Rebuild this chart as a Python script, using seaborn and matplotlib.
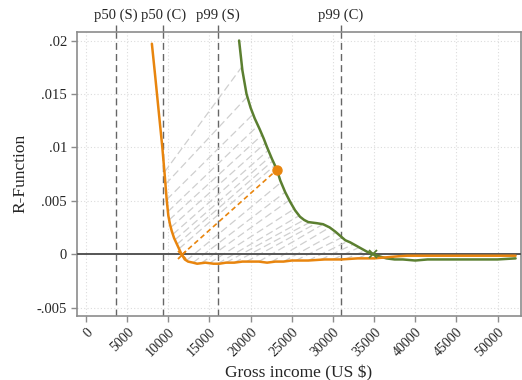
import numpy as np
import pandas as pd
import matplotlib
matplotlib.use("Agg")
import matplotlib.pyplot as plt
import seaborn as sns

# ---- data ----
orange_x = [8000, 8400, 8800, 9270, 9550, 9800, 10000, 10200, 10400, 10700, 11000, 11300, 11600,
            12000, 12400, 13000, 13500, 14500, 15500, 16200, 17000, 18000, 19000, 20000, 21000,
            22000, 23000, 24000, 25000, 27000, 29000, 31000, 33000, 35000, 36500, 38000, 39000,
            40000, 42000, 45000, 48000, 52200]
orange_y = [0.0197, 0.0167, 0.0136, 0.0100, 0.0075, 0.0051, 0.0036, 0.0028, 0.0022, 0.0015, 0.0010,
            0.0005, 0.0000, -0.0005, -0.0007, -0.0008, -0.0009, -0.0008, -0.0009, -0.0009, -0.0008,
            -0.0008, -0.0007, -0.0007, -0.0007, -0.0008, -0.0007, -0.0007, -0.0006, -0.0006,
            -0.0005, -0.0005, -0.0004, -0.0004, -0.0003, -0.0002, -0.00015, -0.00015, -0.00015,
            -0.00015, -0.00015, -0.00015]

green_x = [18600, 19000, 19500, 20000, 20500, 21100, 21600, 22000, 22600, 23200, 23600, 24200,
           24800, 25400, 26000, 26500, 27000, 28000, 28800, 29600, 30300, 30900, 31500, 32100,
           32800, 33500, 34200, 34900, 35600, 36500, 37500, 38500, 40000, 41500, 43000, 45000,
           47000, 50000, 52200]
green_y = [0.0200, 0.0172, 0.0150, 0.0137, 0.0127, 0.0117, 0.0108, 0.0100, 0.0089, 0.0079, 0.0069,
           0.0058, 0.0049, 0.0041, 0.0035, 0.0032, 0.0030, 0.0029, 0.0028, 0.0025, 0.0021, 0.0017,
           0.0013, 0.0011, 0.0008, 0.0005, 0.0002, 0.0000, -0.0002, -0.0004, -0.0005, -0.0005,
           -0.0006, -0.0005, -0.0005, -0.0005, -0.0005, -0.0005, -0.0004]

# links between matching points (orange income -> green income)
link_orange_x = [9530, 9650, 9800, 9950, 10100, 10300, 10550, 10800, 11050, 11300,
                 12200, 13000, 14000, 15000, 16000, 17000, 18000, 19500, 21000, 22500,
                 24000, 25500, 27000, 28500, 30000, 31500, 33000]
link_green_x = [18950, 19600, 20300, 20900, 21400, 21800, 22150, 22450, 22700, 22950,
                23700, 24200, 24700, 25300, 25900, 26500, 27200, 28000, 28800, 29600,
                30400, 31100, 31800, 32500, 33200, 33900, 34500]

highlight_from_x = 11650
highlight_to_x = 23200
cross_orange_x = 11650
cross_green_x = 34900

pct_labels = ["p50 (S)", "p50 (C)", "p99 (S)", "p99 (C)"]
pct_values = [3610, 9400, 16000, 30950]

xticks = list(range(0, 50001, 5000))
yticks = [-0.005, 0, 0.005, 0.01, 0.015, 0.02]
ytick_labels = ["-.005", "0", ".005", ".01", ".015", ".02"]

ORANGE = "#e8850e"
GREEN = "#5b7f30"

sns.set_theme(style="white")
plt.rcParams["font.family"] = ["Liberation Serif", "DejaVu Serif"]

fig = plt.figure(figsize=(5.22, 3.80), dpi=100)
ax = fig.add_axes([0.147, 0.168, 0.851, 0.749])

ax.set_xlim(-1130, 52850)
ax.set_ylim(-0.00581, 0.02084)

# grid
for xt in xticks:
    ax.axvline(xt, color="#dcdcdc", lw=0.8, ls=(0, (1, 2)), zorder=0)
for yt in yticks:
    ax.axhline(yt, color="#dcdcdc", lw=0.8, ls=(0, (1, 2)), zorder=0)

# percentile lines
for v in pct_values:
    ax.axvline(v, color="#666666", lw=1.0, ls=(0, (5, 3)), zorder=1)

ox = np.array(orange_x); oy = np.array(orange_y)
gx = np.array(green_x); gy = np.array(green_y)
for a, b in zip(link_orange_x, link_green_x):
    ya = np.interp(a, ox, oy)
    yb = np.interp(b, gx, gy)
    ax.plot([a, b], [ya, yb], color="#cfcfcf", lw=0.9, ls=(0, (6, 3)), zorder=2)

# highlighted link
hy0 = np.interp(highlight_from_x, ox, oy)
hy1 = np.interp(highlight_to_x, gx, gy)
ax.plot([highlight_from_x, highlight_to_x], [hy0, hy1], color=ORANGE, lw=1.2,
        ls=(0, (3, 2)), zorder=3)

ax.axhline(0, color="#555555", lw=1.4, zorder=3)

df_o = pd.DataFrame({"x": orange_x, "y": orange_y})
df_g = pd.DataFrame({"x": green_x, "y": green_y})
sns.lineplot(data=df_g, x="x", y="y", ax=ax, color=GREEN, lw=1.8, sort=False,
             estimator=None, zorder=4)
sns.lineplot(data=df_o, x="x", y="y", ax=ax, color=ORANGE, lw=1.8, sort=False,
             estimator=None, zorder=5)

ax.plot([highlight_to_x], [hy1], "o", color=ORANGE, ms=6.5, zorder=6)
ax.plot([cross_orange_x], [np.interp(cross_orange_x, ox, oy)], "x", color=ORANGE,
        ms=6, mew=1.3, zorder=6)
ax.plot([cross_green_x], [np.interp(cross_green_x, gx, gy)], "x", color=GREEN,
        ms=6, mew=1.3, zorder=6)

# axes styling
for s in ax.spines.values():
    s.set_color("#8c8c8c")
    s.set_linewidth(1.2)
ax.set_xticks(xticks)
ax.set_xticklabels([str(t) for t in xticks], rotation=45, ha="right",
                   rotation_mode="anchor", fontsize=10)
ax.set_yticks(yticks)
ax.set_yticklabels(ytick_labels, fontsize=10.5)
ax.tick_params(axis="both", direction="out", length=4, width=1, color="#8c8c8c",
               bottom=True, left=True, pad=3)
ax.set_xlabel("Gross income (US $)", fontsize=12.5, labelpad=4)
ax.set_ylabel("R-Function", fontsize=12.5, labelpad=6)

top = ax.secondary_xaxis("top")
top.set_xticks(pct_values)
top.set_xticklabels(pct_labels, fontsize=10.5)
top.tick_params(length=5, width=1, color="#666666", pad=2)
top.spines["top"].set_visible(False)

fig.savefig("out.png", dpi=100)
